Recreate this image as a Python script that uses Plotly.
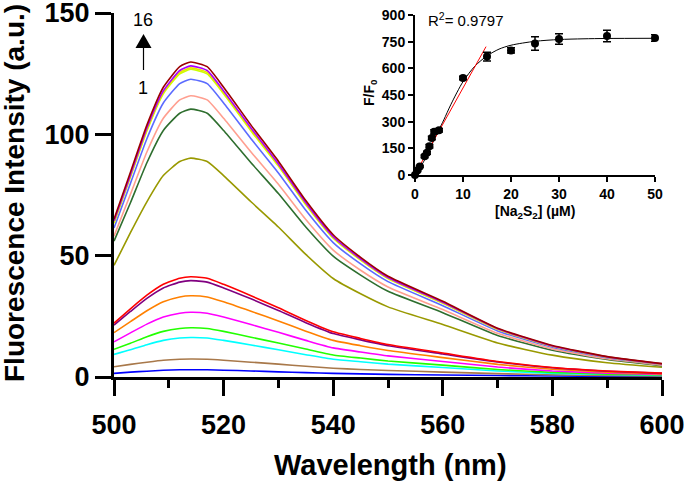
import plotly.graph_objects as go

# ---------------- main spectra data ----------------
wavelength = [500, 503, 506, 509, 512, 514, 517, 520, 525, 530, 535, 540, 545, 550, 560, 570, 580, 590, 600]

spec_01 = [1.5, 2.0, 2.4, 2.8, 3.0, 3.0, 3.0, 2.8, 2.5, 2.1, 1.8, 1.5, 1.3, 1.1, 0.8, 0.6, 0.4, 0.3, 0.2]
spec_02 = [4.2, 5.2, 6.1, 6.9, 7.3, 7.4, 7.3, 6.9, 6.1, 5.3, 4.4, 3.6, 3.1, 2.7, 2.0, 1.4, 0.9, 0.6, 0.4]
spec_03 = [9.3, 11.2, 13.3, 15.1, 16.1, 16.3, 16.1, 15.1, 13.2, 11.2, 9.2, 7.3, 6.3, 5.3, 3.9, 2.5, 1.5, 1.0, 0.6]
spec_04 = [11.4, 13.9, 16.6, 18.8, 20.0, 20.3, 20.0, 18.8, 16.4, 14.0, 11.5, 9.1, 7.8, 6.6, 4.9, 3.1, 1.9, 1.2, 0.8]
spec_05 = [14.5, 18.2, 21.8, 24.7, 26.3, 26.7, 26.3, 24.7, 21.6, 18.4, 15.1, 12.0, 10.3, 8.7, 6.4, 4.1, 2.5, 1.6, 1.0]
spec_06 = [18.3, 22.8, 27.3, 31.0, 33.0, 33.5, 33.0, 31.0, 27.1, 23.1, 18.9, 15.1, 12.9, 10.9, 8.0, 5.2, 3.2, 2.0, 1.3]
spec_07 = [21.4, 27.0, 32.4, 36.7, 39.1, 39.7, 39.1, 36.7, 32.2, 27.4, 22.4, 17.9, 15.3, 12.9, 9.5, 6.2, 3.8, 2.4, 1.5]
spec_08 = [22.2, 28.1, 33.7, 38.2, 40.7, 41.3, 40.7, 38.2, 33.5, 28.5, 23.3, 18.6, 15.9, 13.4, 9.9, 6.4, 3.9, 2.5, 1.6]
spec_09 = [46.0, 59.5, 72.2, 83.0, 88.8, 90.2, 88.8, 83.0, 72.2, 61.8, 50.5, 40.6, 34.3, 28.9, 21.6, 14.0, 9.0, 5.9, 4.0]
spec_10 = [56.0, 71.8, 88.3, 101.6, 108.7, 110.4, 108.7, 101.6, 88.3, 75.6, 61.8, 49.8, 42.0, 35.3, 26.5, 17.1, 11.0, 7.2, 4.6]
spec_11 = [58.0, 75.3, 92.7, 106.6, 114.2, 115.9, 114.2, 106.6, 92.7, 79.4, 64.9, 52.3, 44.0, 37.1, 27.8, 18.0, 11.6, 7.5, 4.9]
spec_12 = [61.4, 79.8, 98.2, 112.9, 120.9, 122.7, 120.9, 112.9, 98.2, 84.1, 68.7, 55.4, 46.6, 39.3, 29.4, 19.0, 12.3, 8.0, 5.2]
spec_13 = [63.4, 82.4, 101.4, 116.7, 124.9, 126.8, 124.9, 116.7, 101.4, 86.9, 71.0, 57.2, 48.2, 40.6, 30.4, 19.7, 12.7, 8.2, 5.3]
spec_14 = [63.8, 82.8, 101.9, 117.2, 125.5, 127.4, 125.5, 117.2, 101.9, 87.3, 71.3, 57.5, 48.4, 40.8, 30.6, 19.7, 12.7, 8.3, 5.4]
spec_15 = [64.3, 83.3, 102.6, 117.9, 126.3, 128.2, 126.3, 117.9, 102.6, 87.8, 71.8, 57.8, 48.7, 41.0, 30.8, 19.9, 12.8, 8.3, 5.4]
spec_16 = [65.0, 84.4, 103.8, 119.4, 127.9, 129.8, 127.9, 119.4, 103.8, 88.9, 72.7, 58.6, 49.3, 41.5, 31.2, 20.1, 13.0, 8.4, 5.5]

spectra = [spec_01, spec_02, spec_03, spec_04, spec_05, spec_06, spec_07, spec_08,
           spec_09, spec_10, spec_11, spec_12, spec_13, spec_14, spec_15, spec_16]
spec_colors = ["#0000ff", "#a8784a", "#00ffff", "#22ff00", "#ff00ff", "#ff8000", "#800080", "#ff0000",
               "#999900", "#2e6e2e", "#ff9f90", "#5b6bff", "#ccff00", "#e6e600", "#aa00ff", "#9b0000"]

x_ticks = [500, 520, 540, 560, 580, 600]
y_ticks = [0, 50, 100, 150]

# ---------------- inset data ----------------
conc = [0, 0.5, 1, 2, 2.5, 3, 3.5, 4, 5, 10, 15, 20, 25, 30, 40, 50]
ratio = [0, 25, 48, 105, 125, 162, 208, 243, 252, 546, 666, 701, 740, 765, 782, 771]
ratio_err = [3, 5, 5, 8, 8, 10, 10, 12, 10, 10, 25, 15, 38, 30, 32, 18]

fit_x = [0, 1, 2, 3, 4, 5, 6, 7.5, 10, 12.5, 15, 17.5, 20, 25, 30, 35, 40, 50]
fit_y = [0, 38, 85, 140, 200, 255, 310, 398, 525, 613, 670, 708, 730, 752, 762, 766, 768, 769]

lin_x = [0, 14.8]
lin_y = [5, 722]

inset_x_ticks = [0, 10, 20, 30, 40, 50]
inset_y_ticks = [0, 150, 300, 450, 600, 750, 900]

FONT = "Liberation Sans, Arial, sans-serif"

fig = go.Figure()

for ys, col in zip(spectra, spec_colors):
    fig.add_trace(go.Scatter(x=wavelength, y=ys, mode="lines",
                             line=dict(color=col, width=1.6, shape="spline", smoothing=0.5),
                             showlegend=False, hoverinfo="skip", cliponaxis=True))

# inset traces
fig.add_trace(go.Scatter(x=fit_x, y=fit_y, mode="lines", xaxis="x2", yaxis="y2",
                         line=dict(color="black", width=1, shape="spline", smoothing=0.8),
                         showlegend=False))
fig.add_trace(go.Scatter(x=lin_x, y=lin_y, mode="lines", xaxis="x2", yaxis="y2",
                         line=dict(color="red", width=1), showlegend=False))
fig.add_trace(go.Scatter(x=conc, y=ratio, mode="markers", xaxis="x2", yaxis="y2",
                         marker=dict(color="black", size=8),
                         error_y=dict(type="data", array=ratio_err, color="black", thickness=1.5, width=4),
                         showlegend=False, cliponaxis=False))

W, H = 684, 481
L, R, T, B = 114, 22, 13, 104
pw, ph = W - L - R, H - T - B

def px(xp):
    return (xp - L) / pw

def py(yp):
    return (H - B - yp) / ph

fig.update_layout(
    width=W, height=H,
    margin=dict(l=L, r=R, t=T, b=B, pad=0, autoexpand=False),
    paper_bgcolor="white", plot_bgcolor="white",
    font=dict(family=FONT, color="black"),
    xaxis=dict(range=[500, 600], tickvals=x_ticks, showgrid=False, zeroline=False,
               showline=True, linecolor="black", linewidth=3, automargin=False,
               ticks="outside", ticklen=16, tickwidth=3, tickcolor="black",
               tickfont=dict(size=27, weight="bold"), ticklabeloverflow="allow",
               ticklabelstandoff=6,
               minor=dict(dtick=10, ticklen=8, tickwidth=3, tickcolor="black", ticks="outside"),
               domain=[0, 1]),
    yaxis=dict(range=[0, 150], tickvals=y_ticks, showgrid=False, zeroline=False,
               showline=True, linecolor="black", linewidth=3, automargin=False,
               ticks="outside", ticklen=16, tickwidth=3, tickcolor="black",
               tickfont=dict(size=27, weight="bold"), ticklabeloverflow="allow", domain=[0, 1]),
    xaxis2=dict(range=[0, 50], tickvals=inset_x_ticks, showgrid=False, zeroline=False,
                showline=True, linecolor="black", linewidth=2, automargin=False,
                ticks="outside", ticklen=5, tickwidth=2, tickcolor="black",
                tickfont=dict(size=14, weight="bold"), ticklabeloverflow="allow",
                anchor="y2", domain=[px(415), px(655)]),
    yaxis2=dict(range=[0, 900], tickvals=inset_y_ticks, showgrid=False, zeroline=False,
                showline=True, linecolor="black", linewidth=2, automargin=False,
                ticks="outside", ticklen=5, tickwidth=2, tickcolor="black",
                tickfont=dict(size=14, weight="bold"), ticklabeloverflow="allow",
                anchor="x2", domain=[py(175), py(15)]),
)

ann = []
# axis titles
ann.append(dict(text="Wavelength (nm)", xref="paper", yref="paper", x=px(390), y=py(465),
                showarrow=False, font=dict(size=29, weight="bold"), xanchor="center", yanchor="middle"))
ann.append(dict(text="Fluorescence Intensity (a.u.)", xref="paper", yref="paper", x=px(14), y=py(193),
                showarrow=False, textangle=-90, font=dict(size=28, weight="bold"),
                xanchor="center", yanchor="middle"))
# arrow labels
ann.append(dict(text="16", xref="paper", yref="paper", x=px(143), y=py(20), showarrow=False,
                font=dict(size=18), xanchor="center", yanchor="middle"))
ann.append(dict(text="1", xref="paper", yref="paper", x=px(143), y=py(88), showarrow=False,
                font=dict(size=18), xanchor="center", yanchor="middle"))
# inset titles
ann.append(dict(text="F/F<sub>0</sub>", xref="paper", yref="paper", x=px(370), y=py(93), showarrow=False,
                textangle=-90, font=dict(size=14, weight="bold"), xanchor="center", yanchor="middle"))
ann.append(dict(text="[Na<sub>2</sub>S<sub>2</sub>] (µM)", xref="paper", yref="paper", x=px(535), y=py(212),
                showarrow=False, font=dict(size=14, weight="bold"), xanchor="center", yanchor="middle"))
ann.append(dict(text="R<sup>2</sup>= 0.9797", xref="paper", yref="paper", x=px(426), y=py(19),
                showarrow=False, font=dict(size=15), xanchor="left", yanchor="middle"))
fig.update_layout(annotations=ann)

# arrow (shaft + head)
fig.add_shape(type="line", xref="paper", yref="paper", x0=px(143.5), x1=px(143.5), y0=py(70), y1=py(46),
              line=dict(color="black", width=1.2))
fig.add_shape(type="path", xref="paper", yref="paper",
              path=f"M {px(135.5)} {py(48)} L {px(151.5)} {py(48)} L {px(143.5)} {py(34)} Z",
              fillcolor="black", line=dict(color="black", width=0))

fig.write_html("out.html", config={"displayModeBar": False},
               post_script="document.body.style.margin='0';document.body.style.overflow='hidden';")
